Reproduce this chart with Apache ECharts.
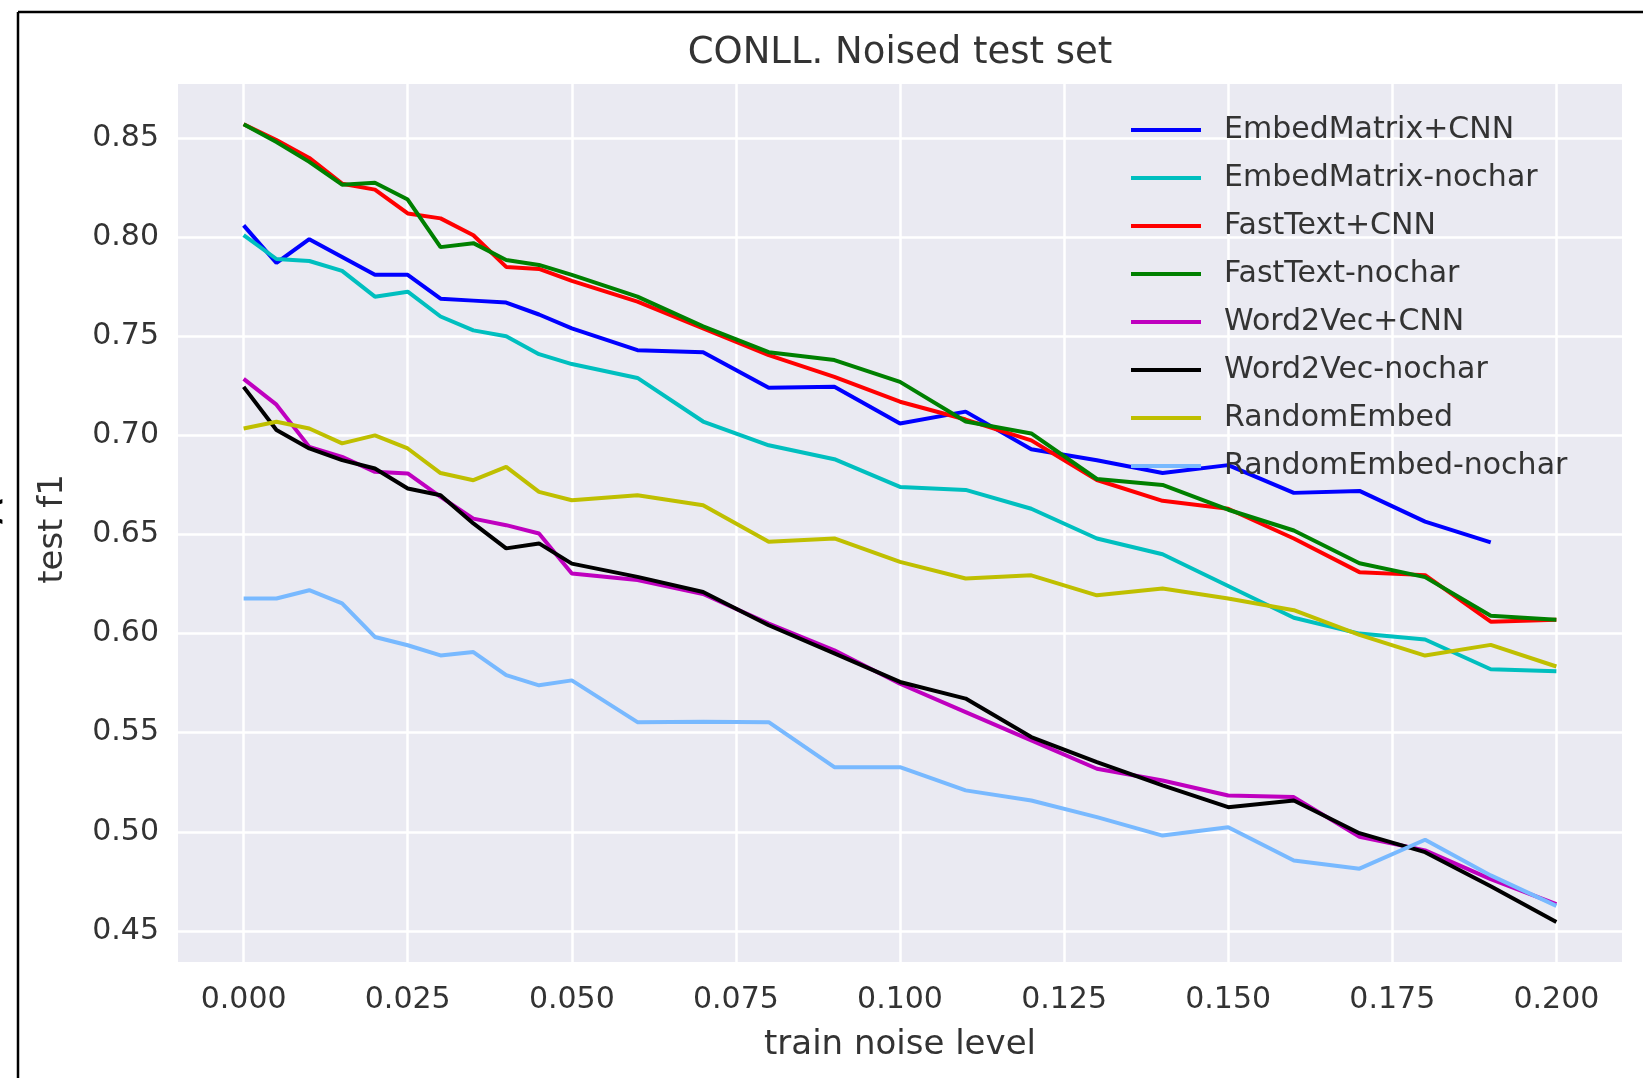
<!DOCTYPE html>
<html>
<head>
<meta charset="utf-8">
<title>CONLL. Noised test set</title>
<script src="https://cdn.jsdelivr.net/npm/echarts@6/dist/echarts.min.js"></script>
<style>
  html, body { margin: 0; padding: 0; background: #fff; }
  #chart { width: 1643px; height: 1078px; }
</style>
</head>
<body>
<div id="chart"></div>
<script>
  // train noise levels (x)
  var noiseLevels = [0, 0.005, 0.01, 0.015, 0.02, 0.025, 0.03, 0.035, 0.04, 0.045, 0.05,
    0.06, 0.07, 0.08, 0.09, 0.10, 0.11, 0.12, 0.13, 0.14, 0.15, 0.16, 0.17, 0.18, 0.19, 0.20]

  var embedMatrixCnn = [0.806, 0.787, 0.799, 0.790, 0.781, 0.781, 0.769, 0.768, 0.767, 0.761, 0.754,
    0.743, 0.742, 0.724, 0.7245, 0.706, 0.712, 0.693, 0.6875, 0.681, 0.685, 0.671, 0.672, 0.6565, 0.646, null]
  var embedMatrixNochar = [0.801, 0.789, 0.788, 0.783, 0.770, 0.7725, 0.760, 0.753, 0.750, 0.741, 0.736,
    0.729, 0.707, 0.695, 0.688, 0.674, 0.6725, 0.663, 0.648, 0.640, 0.624, 0.608, 0.600, 0.597, 0.582, 0.581]
  var fastTextCnn = [0.857, 0.849, 0.840, 0.827, 0.824, 0.812, 0.8095, 0.801, 0.785, 0.784, 0.778,
    0.7675, 0.754, 0.7405, 0.7295, 0.717, 0.708, 0.6975, 0.6775, 0.667, 0.663, 0.648, 0.631, 0.6295, 0.606, 0.607]
  var fastTextNochar = [0.857, 0.848, 0.838, 0.8265, 0.8275, 0.819, 0.795, 0.797, 0.7885, 0.786, 0.781,
    0.770, 0.755, 0.742, 0.738, 0.727, 0.707, 0.701, 0.678, 0.675, 0.6625, 0.652, 0.6355, 0.6285, 0.609, 0.607]
  var word2vecCnn = [0.7285, 0.7155, 0.6942, 0.6892, 0.6816, 0.6808, 0.669, 0.658, 0.6547, 0.6505, 0.6303,
    0.627, 0.620, 0.605, 0.5916, 0.5747, 0.5604, 0.5461, 0.5318, 0.5259, 0.5183, 0.5175, 0.4975, 0.4906, 0.4761, 0.4635]
  var word2vecNochar = [0.7245, 0.7027, 0.6934, 0.6875, 0.6833, 0.6732, 0.6698, 0.6556, 0.643, 0.6455, 0.6353,
    0.6286, 0.621, 0.6042, 0.590, 0.5756, 0.5672, 0.5478, 0.5352, 0.5234, 0.5124, 0.5158, 0.4993, 0.4897, 0.4725, 0.4545]
  var randomEmbed = [0.7035, 0.7069, 0.7035, 0.696, 0.700, 0.6934, 0.681, 0.6774, 0.6841, 0.6715, 0.6673,
    0.6698, 0.6648, 0.6463, 0.648, 0.6362, 0.6278, 0.6294, 0.6193, 0.6227, 0.6177, 0.6118, 0.5994, 0.5889, 0.5943, 0.5834]
  var randomEmbedNochar = [0.6177, 0.6177, 0.6219, 0.6152, 0.5983, 0.5941, 0.589, 0.5907, 0.579, 0.5739, 0.5764,
    0.5553, 0.5555, 0.5553, 0.5326, 0.5326, 0.5209, 0.5158, 0.5074, 0.4981, 0.5023, 0.4855, 0.4814, 0.496, 0.478, 0.4626]

  var xTicks = [0, 0.025, 0.05, 0.075, 0.1, 0.125, 0.15, 0.175, 0.2]
  var yTicks = [0.45, 0.5, 0.55, 0.6, 0.65, 0.7, 0.75, 0.8, 0.85]

  var seriesDefs = [
    { name: 'EmbedMatrix+CNN', color: '#0000ff', values: embedMatrixCnn },
    { name: 'EmbedMatrix-nochar', color: '#00bfbf', values: embedMatrixNochar },
    { name: 'FastText+CNN', color: '#ff0000', values: fastTextCnn },
    { name: 'FastText-nochar', color: '#008000', values: fastTextNochar },
    { name: 'Word2Vec+CNN', color: '#bf00bf', values: word2vecCnn },
    { name: 'Word2Vec-nochar', color: '#000000', values: word2vecNochar },
    { name: 'RandomEmbed', color: '#bfbf00', values: randomEmbed },
    { name: 'RandomEmbed-nochar', color: '#78b9ff', values: randomEmbedNochar }
  ]

  var font = 'DejaVu Sans'
  var textColor = '#333'

  var chart = echarts.init(document.getElementById('chart'), null, { renderer: 'canvas' })

  chart.setOption({
    backgroundColor: '#fff',
    animation: false,
    color: seriesDefs.map(function (s) { return s.color }),
    grid: {
      left: 178,
      right: 21,
      top: 84,
      bottom: 116,
      show: true,
      backgroundColor: '#eaeaf2',
      borderWidth: 0
    },
    legend: {
      orient: 'vertical',
      left: 1126,
      top: 110,
      itemWidth: 70,
      itemHeight: 4,
      itemGap: 18,
      icon: 'rect',
      data: seriesDefs.map(function (s) { return s.name }),
      textStyle: {
        fontFamily: font,
        fontSize: 30,
        lineHeight: 30,
        color: textColor,
        padding: [0, 0, 0, 18]
      }
    },
    xAxis: {
      type: 'value',
      min: -0.01,
      max: 0.21,
      axisLine: { show: false },
      axisTick: { show: false, customValues: xTicks },
      axisLabel: {
        customValues: xTicks,
        formatter: function (v) { return v.toFixed(3) },
        fontFamily: font,
        fontSize: 30,
        lineHeight: 30,
        color: textColor,
        margin: 23
      },
      splitLine: { show: true, lineStyle: { color: '#fff', width: 2.5 } }
    },
    yAxis: {
      type: 'value',
      min: 0.4343,
      max: 0.8773,
      axisLine: { show: false },
      axisTick: { show: false, customValues: yTicks },
      axisLabel: {
        customValues: yTicks,
        formatter: function (v) { return v.toFixed(2) },
        fontFamily: font,
        fontSize: 30,
        color: textColor,
        margin: 19
      },
      splitLine: { show: true, lineStyle: { color: '#fff', width: 2.5 } }
    },
    graphic: [
      { type: 'line', silent: true, shape: { x1: 18, y1: 12, x2: 18, y2: 1078 }, style: { stroke: '#000', lineWidth: 2.5 } },
      { type: 'line', silent: true, shape: { x1: 18, y1: 12, x2: 1643, y2: 12 }, style: { stroke: '#000', lineWidth: 2.5 } },
      { type: 'text', x: -12, y: 514, style: { text: '<', fontFamily: font, fontSize: 46, fill: '#000', align: 'center', verticalAlign: 'middle' } },
      { type: 'text', x: 900, y: 53, style: { text: 'CONLL. Noised test set', fontFamily: font, fontSize: 37, fill: textColor, align: 'center', verticalAlign: 'middle' } },
      { type: 'text', x: 900, y: 1045, style: { text: 'train noise level', fontFamily: font, fontSize: 34, fill: textColor, align: 'center', verticalAlign: 'middle' } },
      { type: 'text', x: 53, y: 529, rotation: Math.PI / 2, style: { text: 'test f1', fontFamily: font, fontSize: 34, fill: textColor, align: 'center', verticalAlign: 'middle' } }
    ],
    series: seriesDefs.map(function (s) {
      return {
        name: s.name,
        type: 'line',
        showSymbol: false,
        symbol: 'none',
        connectNulls: false,
        lineStyle: { width: 4, color: s.color },
        itemStyle: { color: s.color },
        emphasis: { disabled: true },
        data: noiseLevels.map(function (x, i) { return [x, s.values[i]] })
      }
    })
  })
</script>
</body>
</html>
